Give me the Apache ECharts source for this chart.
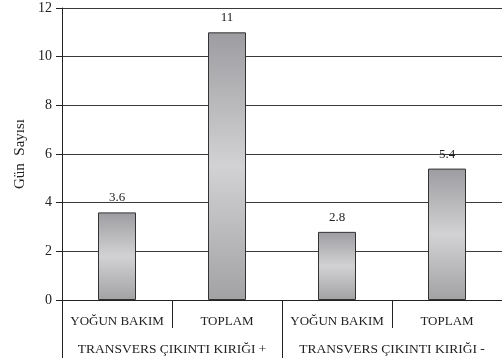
<!DOCTYPE html>
<html>
<head>
<meta charset="utf-8">
<script src="https://cdn.jsdelivr.net/npm/echarts@6/dist/echarts.min.js"></script>
<style>
  html, body { margin: 0; padding: 0; background: #fff; }
  #chart { width: 502px; height: 362px; }
</style>
</head>
<body>
<div id="chart"></div>
<script>
// Inner categories (per bar) and the outer grouping beneath them
const subCategories = ['YOĞUN BAKIM', 'TOPLAM', 'YOĞUN BAKIM', 'TOPLAM'];
const groupCategories = ['TRANSVERS ÇIKINTI KIRIĞI +', 'TRANSVERS ÇIKINTI KIRIĞI -'];
const dayCounts = [3.6, 11, 2.8, 5.4];
const yTicks = [0, 2, 4, 6, 8, 10, 12];

const serif = '"Liberation Serif", "DejaVu Serif", serif';
const ink = '#222';

const chart = echarts.init(document.getElementById('chart'), null, { renderer: 'canvas' });

chart.setOption({
  animation: false,
  grid: { left: 62, top: 8, width: 448, height: 292 },
  xAxis: [
    {
      type: 'category',
      data: subCategories,
      position: 'bottom',
      axisLine: { show: true, lineStyle: { color: ink, width: 1 } },
      axisTick: { show: true, length: 28, lineStyle: { color: ink } },
      axisLabel: { margin: 15, fontFamily: serif, fontSize: 13, color: ink, interval: 0 }
    },
    {
      type: 'category',
      data: groupCategories,
      position: 'bottom',
      axisLine: { show: false },
      axisTick: { show: true, length: 58, lineStyle: { color: ink } },
      axisLabel: { margin: 42, fontFamily: serif, fontSize: 13.5, color: ink, interval: 0 }
    }
  ],
  yAxis: {
    type: 'value',
    min: yTicks[0],
    max: yTicks[yTicks.length - 1],
    interval: 2,
    name: 'Gün  Sayısı',
    nameLocation: 'middle',
    nameGap: 34,
    nameTextStyle: { fontFamily: serif, fontSize: 15, color: ink },
    axisLine: { show: true, lineStyle: { color: ink } },
    axisTick: { show: true, length: 6, lineStyle: { color: ink } },
    axisLabel: { margin: 10, fontFamily: serif, fontSize: 14, color: ink },
    splitLine: { show: true, lineStyle: { color: '#3a3a3a', width: 1 } }
  },
  series: [{
    type: 'bar',
    xAxisIndex: 0,
    data: dayCounts,
    barWidth: 38,
    itemStyle: {
      borderColor: '#333',
      borderWidth: 1,
      color: new echarts.graphic.LinearGradient(0, 0, 0, 1, [
        { offset: 0, color: '#9d9da1' },
        { offset: 0.5, color: '#d2d2d4' },
        { offset: 1, color: '#a2a2a5' }
      ])
    },
    label: {
      show: true,
      position: 'top',
      distance: 8,
      fontFamily: serif,
      fontSize: 13,
      color: ink
    }
  }]
});
</script>
</body>
</html>
